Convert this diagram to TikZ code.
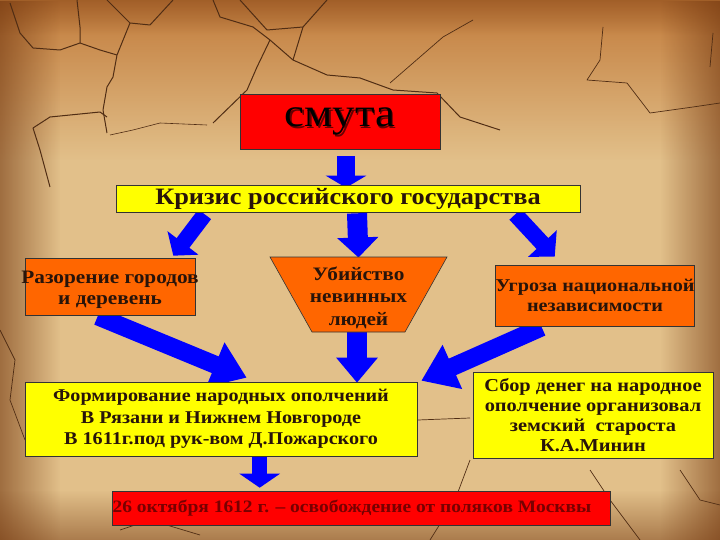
\documentclass[tikz,border=0pt]{standalone}
\usepackage{fontspec}
\setmainfont{Liberation Serif}[FakeStretch=1.12]
\usetikzlibrary{arrows.meta,calc,fadings}
\definecolor{bgmid}{RGB}{226,192,138}
\definecolor{bgtop}{RGB}{190,115,50}
\definecolor{bgedge}{RGB}{115,55,15}
\definecolor{crack}{RGB}{80,45,20}
\definecolor{boxred}{RGB}{255,0,0}
\definecolor{boxorange}{RGB}{255,102,0}
\definecolor{boxyellow}{RGB}{255,255,0}
\definecolor{arrowblue}{RGB}{0,0,255}
\definecolor{txtdark}{RGB}{40,20,10}
\definecolor{txtred}{RGB}{120,0,0}
\tikzset{
  crackline/.style={draw=crack,line width=1pt,line join=round},
  boxbase/.style={draw=black!80,line width=0.6pt,align=center,inner sep=0pt,text=txtdark,
    font=\bfseries\fontsize{18}{20.5}\selectfont},
  redbox/.style={boxbase,fill=boxred},
  orangebox/.style={boxbase,fill=boxorange},
  yellowbox/.style={boxbase,fill=boxyellow},
  plaintext/.style={align=center,inner sep=0pt,text=txtdark},
  barrow/.style={draw=arrowblue,line width=#1},
}
\begin{document}
\begin{tikzpicture}[x=1pt,y=-1pt]
\useasboundingbox (0,0) rectangle (720,540);
% background
\fill[bgmid] (0,0) rectangle (720,540);
\fill[bgtop,path fading=south,opacity=0.9] (0,0) rectangle (720,160);
\fill[bgedge,path fading=east,opacity=0.6] (0,0) rectangle (60,540);
\fill[bgedge,path fading=west,opacity=0.6] (660,0) rectangle (720,540);
\fill[bgedge,path fading=north,opacity=0.5] (0,490) rectangle (720,540);
\fill[bgedge,path fading=south,opacity=0.4] (0,0) rectangle (720,35);
% cracks
\draw[crackline] (10,3) -- (20,33) -- (33,48) -- (60,50) -- (80,43) -- (100,50) -- (117,55) -- (113,77) -- (107,87) -- (103,110) -- (107,133);
\draw[crackline] (77,0) -- (80,27) -- (80,43);
\draw[crackline] (107,0) -- (130,23) -- (150,25) -- (173,0);
\draw[crackline] (130,23) -- (117,55);
\draw[crackline] (33,128) -- (50,117) -- (100,112) -- (107,117);
\draw[crackline] (33,128) -- (40,150) -- (50,187);
\draw[crackline,line width=0.6pt] (110,135) -- (133,130) -- (160,123) -- (207,125);
\draw[crackline] (213,0) -- (220,17) -- (253,27) -- (270,40) -- (293,60) -- (327,75) -- (360,78) -- (393,90) -- (437,93) -- (460,117) -- (500,130);
\draw[crackline] (270,40) -- (257,67) -- (247,90) -- (213,123);
\draw[crackline] (240,0) -- (267,30) -- (303,27) -- (327,0);
\draw[crackline] (303,27) -- (293,60);
\draw[crackline,line width=0.7pt] (473,20) -- (443,37) -- (390,83);
\draw[crackline,line width=0.7pt] (603,27) -- (600,60) -- (587,80) -- (627,83) -- (650,113) -- (693,107) -- (720,103);
\draw[crackline,line width=0.7pt] (713,33) -- (710,67);
\draw[crackline,line width=0.7pt] (0,330) -- (15,360) -- (10,400) -- (25,440);
\draw[crackline,line width=0.7pt] (418,420) -- (470,418);
\draw[crackline,line width=0.7pt] (470,460) -- (455,500) -- (430,540);
\draw[crackline,line width=0.7pt] (590,470) -- (610,500) -- (640,540);
\draw[crackline,line width=0.7pt] (120,530) -- (150,520) -- (200,535);
\draw[crackline,line width=0.7pt] (680,470) -- (700,500) -- (720,505);
% box positions (drawn after the arrows)
\path
  node[redbox,minimum width=200pt,minimum height=55pt,draw=none,fill=none] (smuta) at (340,121.5) {}
  node[yellowbox,minimum width=464pt,minimum height=27pt,draw=none,fill=none] (crisis) at (348,198.5) {}
  node[orangebox,minimum width=170pt,minimum height=57pt,draw=none,fill=none] (razor) at (110,286.5) {}
  node[orangebox,minimum width=196pt,minimum height=61pt,draw=none,fill=none] (threat) at (595,295.5) {}
  node[yellowbox,minimum width=392pt,minimum height=74pt,draw=none,fill=none] (form) at (221,419) {}
  node[yellowbox,minimum width=240pt,minimum height=86pt,draw=none,fill=none] (minin) at (593,415) {}
  node[redbox,minimum width=498pt,minimum height=34pt,draw=none,fill=none] (free) at (361,508) {};
\coordinate (kill) at (358.5,294.5);
% arrow ends
\coordinate (a1s) at ($(smuta.south)+(6,7)$);
\coordinate (a1e) at ($(crisis.north)+(-2,3)$);
\coordinate (a2s) at ($(crisis.south west)+(89,2)$);
\coordinate (a2e) at ($(razor.north east)+(-22,-2)$);
\coordinate (a3s) at ($(crisis.south)+(9,1)$);
\coordinate (a3e) at ($(kill)+(0,-37)$);
\coordinate (a4s) at ($(crisis.south east)+(-65,2)$);
\coordinate (a4e) at ($(threat.north west)+(58,-8)$);
\coordinate (a5s) at ($(razor.south west)+(73,1)$);
\coordinate (a5e) at ($(form.north west)+(222,-4)$);
\coordinate (a6s) at ($(kill)+(0,37)$);
\coordinate (a6e) at ($(form.north east)+(-60,1)$);
\coordinate (a7s) at ($(threat.south west)+(45,1)$);
\coordinate (a7e) at ($(form.north east)+(4,-1)$);
\coordinate (a8s) at ($(form.south west)+(235,1)$);
\coordinate (a8e) at ($(free.north west)+(148,-3)$);
% arrows
\draw[barrow=18pt,-{Triangle[width=40pt,length=12pt]}] (a1s) -- (a1e);
\draw[barrow=16pt,-{Triangle[width=38pt,length=16pt]}] (a2s) -- (a2e);
\draw[barrow=20pt,-{Triangle[width=40pt,length=20pt]}] (a3s) -- (a3e);
\draw[barrow=16pt,-{Triangle[width=38pt,length=18pt]}] (a4s) -- (a4e);
\draw[barrow=18pt,-{Triangle[width=46pt,length=34pt]}] (a5s) -- (a5e);
\draw[barrow=20pt,-{Triangle[width=40pt,length=25pt]}] (a6s -| a3s) -- (a6e -| a3s);
\draw[barrow=18pt,-{Triangle[width=46pt,length=34pt]}] (a7s) -- (a7e);
\draw[barrow=15pt,-{Triangle[width=40pt,length=14pt]}] (a8s) -- (a8e);
% boxes with text
\node[redbox,minimum width=200pt,minimum height=55pt] at (smuta) {};
\node[text=boxred!40!black,font=\fontsize{40}{40}\selectfont] at ($(smuta)+(1.5,1.5)$) {смута};
\node[text=black,font=\fontsize{40}{40}\selectfont] at (smuta) {смута};
\node[yellowbox,minimum width=464pt,minimum height=27pt,font=\bfseries\fontsize{23.5}{24}\selectfont] at (crisis) {Кризис российского государства};
\node[orangebox,minimum width=170pt,minimum height=57pt] at (razor) {};
\node[plaintext,font=\bfseries\fontsize{19}{21}\selectfont] at ($(razor)+(0,3)$) {Разорение городов\\и деревень};
\filldraw[fill=boxorange,draw=black!80,line width=0.6pt] (270,257) -- (447,257) -- (405,332) -- (312,332) -- cycle;
\node[plaintext,font=\bfseries\fontsize{19}{22.5}\selectfont] at ($(kill)+(0,3)$) {Убийство\\невинных\\людей};
\node[orangebox,minimum width=196pt,minimum height=61pt] at (threat) {Угроза национальной\\независимости};
\node[yellowbox,minimum width=392pt,minimum height=74pt,font=\bfseries\fontsize{18}{21.5}\selectfont] at (form) {Формирование народных ополчений\\В Рязани и Нижнем Новгороде\\В 1611г.под рук-вом Д.Пожарского};
\node[yellowbox,minimum width=240pt,minimum height=86pt,font=\bfseries\fontsize{18.2}{20}\selectfont] at (minin) {Сбор денег на народное\\ополчение организовал\\земский\ \ староста\\К.А.Минин};
\node[redbox,minimum width=498pt,minimum height=34pt] at (free) {};
\node[plaintext,text=txtred,font=\bfseries\fontsize{17.4}{20}\selectfont] at ($(free)+(-9,0)$) {26 октября 1612 г. – освобождение от поляков Москвы};
\end{tikzpicture}
\end{document}
